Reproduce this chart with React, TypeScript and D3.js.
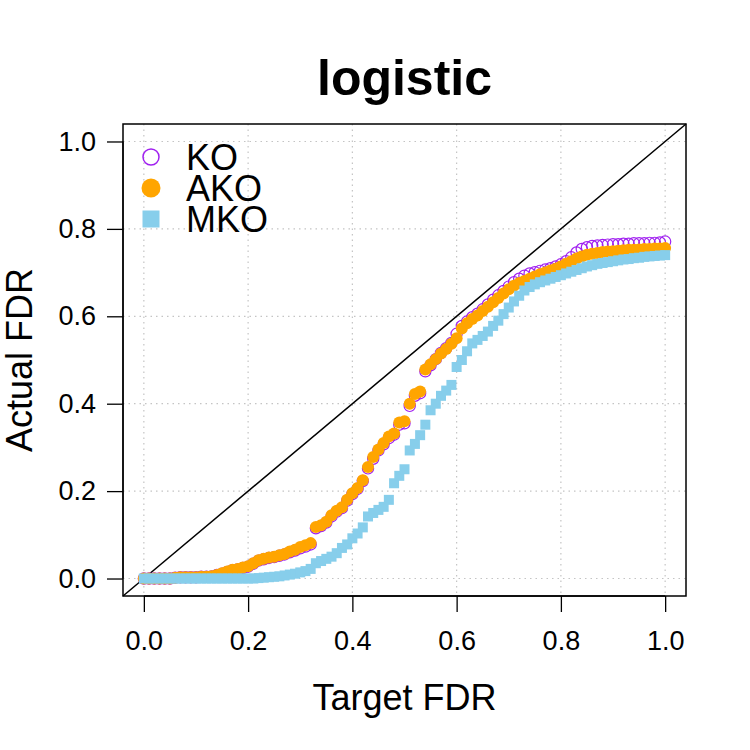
import React, { useEffect, useRef } from 'react';
import * as d3 from 'd3';

// target FDR levels
const targetFdr = [
  0, 0.01, 0.02, 0.03, 0.04, 0.05, 0.06, 0.07, 0.08, 0.09,
  0.1, 0.11, 0.12, 0.13, 0.14, 0.15, 0.16, 0.17, 0.18, 0.19,
  0.2, 0.21, 0.22, 0.23, 0.24, 0.25, 0.26, 0.27, 0.28, 0.29,
  0.3, 0.31, 0.32, 0.33, 0.34, 0.35, 0.36, 0.37, 0.38, 0.39,
  0.4, 0.41, 0.42, 0.43, 0.44, 0.45, 0.46, 0.47, 0.48, 0.49,
  0.5, 0.51, 0.52, 0.53, 0.54, 0.55, 0.56, 0.57, 0.58, 0.59,
  0.6, 0.61, 0.62, 0.63, 0.64, 0.65, 0.66, 0.67, 0.68, 0.69,
  0.7, 0.71, 0.72, 0.73, 0.74, 0.75, 0.76, 0.77, 0.78, 0.79,
  0.8, 0.81, 0.82, 0.83, 0.84, 0.85, 0.86, 0.87, 0.88, 0.89,
  0.9, 0.91, 0.92, 0.93, 0.94, 0.95, 0.96, 0.97, 0.98, 0.99, 1
];

// actual FDR per method
const ko = [
  0, 0, 0, 0, 0, 0,
  0.002, 0.003, 0.003, 0.003, 0.003, 0.004, 0.004, 0.005,
  0.008, 0.011, 0.015, 0.019, 0.021, 0.024, 0.027,
  0.034, 0.041, 0.044, 0.047, 0.049, 0.052, 0.055, 0.06, 0.064, 0.069, 0.073, 0.078,
  0.115, 0.12, 0.128, 0.142, 0.153, 0.161, 0.178, 0.193, 0.205, 0.223, 0.252, 0.274, 0.293, 0.307, 0.321, 0.329, 0.352, 0.355,
  0.395, 0.418, 0.424, 0.474, 0.488, 0.502, 0.516, 0.527, 0.539, 0.56, 0.578, 0.588, 0.598, 0.606, 0.616, 0.627, 0.638, 0.648, 0.658, 0.668,
  0.678, 0.686, 0.693, 0.698, 0.701, 0.704, 0.707, 0.71, 0.714, 0.719, 0.726, 0.735, 0.746, 0.754, 0.758,
  0.761, 0.762, 0.763, 0.764, 0.765, 0.765, 0.766, 0.766, 0.767, 0.767, 0.767, 0.768, 0.768, 0.769, 0.771
];

const ako = [
  0, 0, 0, 0, 0, 0,
  0.002, 0.003, 0.003, 0.003, 0.003, 0.004, 0.004, 0.005,
  0.008, 0.012, 0.016, 0.02, 0.022, 0.025, 0.028,
  0.035, 0.042, 0.045, 0.048, 0.05, 0.053, 0.056, 0.062, 0.066, 0.072, 0.076, 0.081,
  0.118, 0.122, 0.13, 0.145, 0.155, 0.163, 0.18, 0.195, 0.207, 0.225, 0.255, 0.278, 0.295, 0.31, 0.325, 0.332, 0.357, 0.36,
  0.4, 0.422, 0.428, 0.478, 0.49, 0.502, 0.515, 0.525, 0.537, 0.55, 0.572, 0.584, 0.594, 0.602, 0.612, 0.622, 0.632, 0.642, 0.652, 0.662,
  0.67, 0.676, 0.681, 0.686, 0.691, 0.696, 0.7, 0.705, 0.709, 0.714, 0.72, 0.726, 0.732, 0.737, 0.741,
  0.743, 0.745, 0.747, 0.748, 0.749, 0.75, 0.751, 0.752, 0.752, 0.753, 0.754, 0.754, 0.755, 0.755, 0.756
];

const mko = [
  0, 0, 0, 0, 0, 0, 0, 0, 0, 0, 0, 0, 0, 0, 0, 0, 0, 0, 0, 0, 0, 0,
  0.001, 0.002, 0.003, 0.004, 0.005, 0.007, 0.009, 0.011, 0.014, 0.017, 0.022,
  0.035, 0.04, 0.045, 0.05, 0.058, 0.07, 0.078, 0.092, 0.103, 0.117, 0.142, 0.15, 0.157, 0.164, 0.18, 0.218, 0.235, 0.25,
  0.293, 0.308, 0.328, 0.352, 0.385, 0.4, 0.418, 0.43, 0.443, 0.484, 0.5, 0.52, 0.538, 0.546, 0.555, 0.565, 0.578, 0.59, 0.605, 0.62,
  0.634, 0.647, 0.659, 0.667, 0.673, 0.678, 0.682, 0.686, 0.69, 0.694, 0.698, 0.702, 0.706, 0.71, 0.714,
  0.717, 0.72, 0.722, 0.724, 0.726, 0.728, 0.73, 0.731, 0.733, 0.734, 0.736, 0.737, 0.738, 0.739, 0.74
];

const tickValues = [0, 0.2, 0.4, 0.6, 0.8, 1.0];
const legendLabels = ['KO', 'AKO', 'MKO'];

const PURPLE = '#A020F0';
const ORANGE = '#FFA500';
const SKY = '#87CEEB';
const FONT = '"Liberation Sans", Arial, Helvetica, sans-serif';

const App = () => {
  const svgRef = useRef<SVGSVGElement>(null);

  useEffect(() => {
    const svg = d3.select(svgRef.current);
    svg.selectAll('*').remove();

    const left = 123, right = 686, top = 124, bottom = 596;

    const x = d3.scaleLinear().domain([-0.04, 1.04]).range([left, right]);
    const y = d3.scaleLinear().domain([-0.04, 1.04]).range([bottom, top]);

    svg.append('rect').attr('width', 750).attr('height', 750).attr('fill', 'white');

    // grid (dotted, light gray)
    const grid = svg.append('g')
      .attr('stroke', '#c4c4c4')
      .attr('stroke-width', 1.2)
      .attr('stroke-dasharray', '1.5,4');
    grid.selectAll('.gx').data(tickValues).enter().append('line')
      .attr('x1', d => x(d)).attr('x2', d => x(d))
      .attr('y1', top).attr('y2', bottom);
    grid.selectAll('.gy').data(tickValues).enter().append('line')
      .attr('y1', d => y(d)).attr('y2', d => y(d))
      .attr('x1', left).attr('x2', right);

    // diagonal y = x
    svg.append('line')
      .attr('x1', x(-0.04)).attr('y1', y(-0.04))
      .attr('x2', x(1.04)).attr('y2', y(1.04))
      .attr('stroke', 'black').attr('stroke-width', 1.5);

    const pts = targetFdr.map((t, i) => ({ t, ko: ko[i], ako: ako[i], mko: mko[i] }));

    // KO: open circles
    svg.append('g').selectAll('circle').data(pts).enter().append('circle')
      .attr('cx', d => x(d.t)).attr('cy', d => y(d.ko)).attr('r', 5.6)
      .attr('fill', 'none').attr('stroke', PURPLE).attr('stroke-width', 1.2);

    // AKO: filled circles
    svg.append('g').selectAll('circle').data(pts).enter().append('circle')
      .attr('cx', d => x(d.t)).attr('cy', d => y(d.ako)).attr('r', 6)
      .attr('fill', ORANGE);

    // MKO: filled squares
    const sq = 10;
    svg.append('g').selectAll('rect').data(pts).enter().append('rect')
      .attr('x', d => x(d.t) - sq / 2).attr('y', d => y(d.mko) - sq / 2)
      .attr('width', sq).attr('height', sq)
      .attr('fill', SKY);

    // box
    svg.append('rect')
      .attr('x', left).attr('y', top)
      .attr('width', right - left).attr('height', bottom - top)
      .attr('fill', 'none').attr('stroke', 'black').attr('stroke-width', 1.5);

    // axes
    const xAxis = d3.axisBottom(x).tickValues(tickValues).tickFormat(d3.format('.1f'))
      .tickSize(16).tickSizeOuter(0).tickPadding(19);
    const gx = svg.append('g').attr('transform', `translate(0,${bottom})`).call(xAxis);

    const yAxis = d3.axisLeft(y).tickValues(tickValues).tickFormat(d3.format('.1f'))
      .tickSize(16).tickSizeOuter(0).tickPadding(11);
    const gy = svg.append('g').attr('transform', `translate(${left},0)`).call(yAxis);

    [gx, gy].forEach(g => {
      g.select('.domain').remove();
      g.selectAll('line').attr('stroke', 'black').attr('stroke-width', 1.3);
      g.selectAll('text').attr('font-family', FONT).attr('font-size', 27).attr('fill', 'black');
    });
    gx.append('line').attr('x1', x(0)).attr('x2', x(1)).attr('stroke', 'black').attr('stroke-width', 1.3);
    gy.append('line').attr('y1', y(0)).attr('y2', y(1)).attr('stroke', 'black').attr('stroke-width', 1.3);

    // titles
    svg.append('text')
      .attr('x', (left + right) / 2).attr('y', 95)
      .attr('text-anchor', 'middle')
      .attr('font-family', FONT).attr('font-weight', 'bold').attr('font-size', 50)
      .text('logistic');

    svg.append('text')
      .attr('x', (left + right) / 2).attr('y', 710)
      .attr('text-anchor', 'middle')
      .attr('font-family', FONT).attr('font-size', 36)
      .text('Target FDR');

    svg.append('text')
      .attr('transform', `translate(32,${(top + bottom) / 2}) rotate(-90)`)
      .attr('text-anchor', 'middle')
      .attr('font-family', FONT).attr('font-size', 36)
      .text('Actual FDR');

    // legend
    const legendY = [157, 188, 219];
    const lg = svg.append('g');
    lg.append('circle').attr('cx', 151).attr('cy', legendY[0]).attr('r', 8)
      .attr('fill', 'none').attr('stroke', PURPLE).attr('stroke-width', 1.5);
    lg.append('circle').attr('cx', 151).attr('cy', legendY[1]).attr('r', 9.5)
      .attr('fill', ORANGE);
    lg.append('rect').attr('x', 151 - 8.5).attr('y', legendY[2] - 8.5)
      .attr('width', 17).attr('height', 17).attr('fill', SKY);
    lg.selectAll('text').data(legendLabels).enter().append('text')
      .attr('x', 186).attr('y', (d, i) => legendY[i] + 13)
      .attr('font-family', FONT).attr('font-size', 36)
      .text(d => d);
  }, []);

  return (
    <svg ref={svgRef} width={750} height={750}
      style={{ position: 'absolute', left: 0, top: 0 }} />
  );
};

export default App;
